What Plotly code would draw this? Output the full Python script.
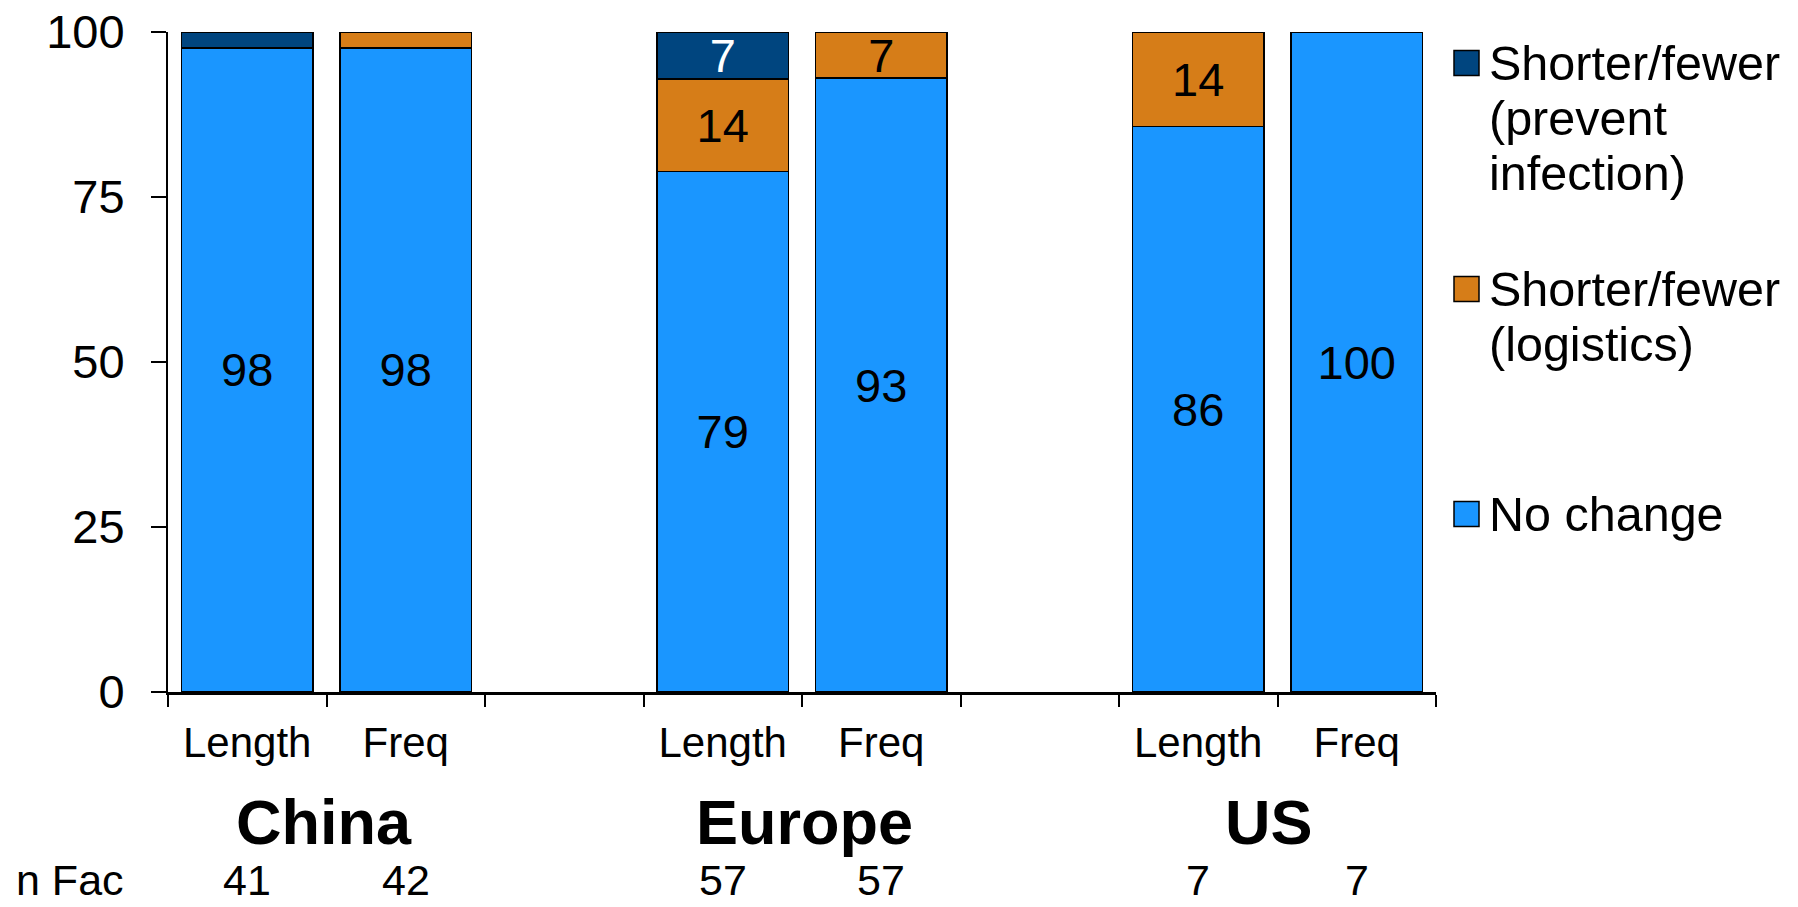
import plotly.graph_objects as go

# ---- data ----
regions = ["China", "Europe", "US"]
measures = ["Length", "Freq"]
n_fac = [41, 42, 57, 57, 7, 7]
no_change = [97.6, 97.6, 78.9, 93.0, 85.7, 100.0]
logistics = [0.0, 2.4, 14.0, 7.0, 14.3, 0.0]
prevent = [2.4, 0.0, 7.0, 0.0, 0.0, 0.0]
series_names = ["No change", "Shorter/fewer (logistics)", "Shorter/fewer (prevent infection)"]
legend_lines = [["Shorter/fewer", "(prevent", "infection)"],
                ["Shorter/fewer", "(logistics)"],
                ["No change"]]
yticks = [0, 25, 50, 75, 100]

# ---- style ----
FONT = "Arial, 'Liberation Sans', sans-serif"
C_NO = "#1a96ff"
C_LOG = "#d67d18"
C_PREV = "#00457f"
W, H = 1798, 907
L, R, T, B = 168, 1436, 32, 692
region_xshift = [-3, 2, -9]


def px(x):
    return (x - L) / (R - L)


def py(y):
    return (B - y) / (B - T)


xpos = [r * 3 + m for r in range(len(regions)) for m in range(len(measures))]
xlabels = [m for r in regions for m in measures]


def labels(vals):
    return [f"{v:.0f}" if v >= 5 else "" for v in vals]


fig = go.Figure()
for vals, color, tcolor, name in [
    (no_change, C_NO, "black", series_names[0]),
    (logistics, C_LOG, "black", series_names[1]),
    (prevent, C_PREV, "white", series_names[2]),
]:
    fig.add_trace(go.Bar(
        x=xpos, y=vals, name=name, width=0.83,
        marker=dict(color=color, line=dict(color="black", width=1.5)),
        text=labels(vals), textposition="inside", insidetextanchor="middle",
        textangle=0, insidetextfont=dict(family=FONT, size=47, color=tcolor),
        showlegend=False, hoverinfo="skip",
    ))

annotations = []
# region titles
for i, r in enumerate(regions):
    annotations.append(dict(
        x=i * 3 + 0.5, xref="x", y=py(822), yref="paper", text=f"<b>{r}</b>",
        xshift=region_xshift[i],
        showarrow=False, xanchor="center", yanchor="middle",
        font=dict(family=FONT, size=63, color="black")))
# n Fac row
NFAC_Y = 880
annotations.append(dict(
    x=px(14), xref="paper", y=py(NFAC_Y), yref="paper", text="n Fac",
    showarrow=False, xanchor="left", yanchor="middle",
    font=dict(family=FONT, size=43, color="black")))
for x, n in zip(xpos, n_fac):
    annotations.append(dict(
        x=x, xref="x", y=py(NFAC_Y), yref="paper", text=str(n),
        showarrow=False, xanchor="center", yanchor="middle",
        font=dict(family=FONT, size=43, color="black")))

# manual legend
shapes = []
leg_colors = [C_PREV, C_LOG, C_NO]
first_line_y = [63, 289, 514]
for lines, col, y0 in zip(legend_lines, leg_colors, first_line_y):
    shapes.append(dict(type="rect", xref="paper", yref="paper",
                       x0=px(1454), x1=px(1479), y0=py(y0 + 12.5), y1=py(y0 - 12.5),
                       fillcolor=col, line=dict(color="black", width=1.5)))
    for k, line in enumerate(lines):
        annotations.append(dict(
            x=px(1487), xref="paper", y=py(y0 + 55 * k), yref="paper", text=line,
            showarrow=False, xanchor="left", yanchor="middle",
            font=dict(family=FONT, size=48.5, color="black")))

fig.update_layout(
    width=W, height=H,
    margin=dict(l=L, r=W - R, t=T, b=H - B, pad=0, autoexpand=False),
    barmode="stack",
    plot_bgcolor="white", paper_bgcolor="white",
    uniformtext=dict(minsize=47, mode="show"),
    font=dict(family=FONT, color="black"),
    annotations=annotations, shapes=shapes,
    showlegend=False,
    xaxis=dict(
        range=[-0.5, 7.5], tickmode="array", tickvals=xpos, ticktext=xlabels,
        ticks="", showgrid=False, zeroline=False, automargin=False,
        showline=True, linecolor="black", linewidth=2.5,
        tickfont=dict(family=FONT, size=42, color="black"),
        ticklabelstandoff=12,
        minor=dict(tick0=-0.5, dtick=1, ticks="outside", ticklen=12,
                   tickwidth=1.5, tickcolor="black", showgrid=False),
        fixedrange=True,
    ),
    yaxis=dict(
        range=[0, 100], tickmode="array", tickvals=yticks,
        ticks="outside", ticklen=15, tickwidth=1.5, tickcolor="black",
        showgrid=False, zeroline=False, automargin=False,
        showline=True, linecolor="black", linewidth=2,
        tickfont=dict(family=FONT, size=47, color="black"),
        ticklabelstandoff=17,
        fixedrange=True,
    ),
)

fig.write_html(
    "out.html",
    config={"displayModeBar": False},
    post_script="document.body.style.margin='0px';document.body.style.overflow='hidden';",
)
